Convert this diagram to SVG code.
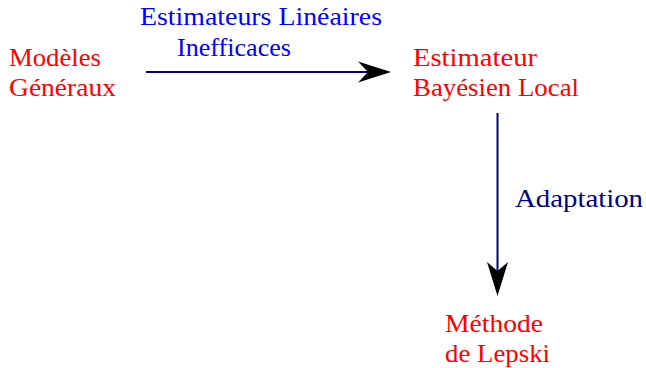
<svg xmlns="http://www.w3.org/2000/svg" width="646" height="368" viewBox="0 0 646 368">
<style>
text{font-family:"Liberation Serif","Times New Roman",serif;font-size:25px}
.node{fill:#ff0000}
.lbl{fill:#0000ff}
.lbl2{fill:#000080}
.edge{stroke:#000080;stroke-width:2;fill:none}
.head{fill:#000000;stroke:none}
</style>
<rect width="646" height="368" fill="#ffffff"/>
<g id="connectors">
<g id="edge-1">
<line class="edge" x1="146" y1="72" x2="370" y2="72"/>
<path class="head" d="M391,72 L358,61.5 L368,72 L358,82.5 Z"/>
<text class="lbl" x="140" y="25" textLength="242" lengthAdjust="spacingAndGlyphs">Estimateurs Linéaires</text>
<text class="lbl" x="177" y="56" textLength="114" lengthAdjust="spacingAndGlyphs">Inefficaces</text>
</g>
<g id="edge-2">
<line class="edge" x1="497.5" y1="113" x2="497.5" y2="272"/>
<path class="head" d="M497.5,296 L487,262 L497.5,271 L508,262 Z"/>
<text class="lbl2" x="515" y="207" textLength="128" lengthAdjust="spacingAndGlyphs">Adaptation</text>
</g>
</g>
<g id="node-modeles">
<text class="node" x="9" y="66" textLength="92" lengthAdjust="spacingAndGlyphs">Modèles</text>
<text class="node" x="9" y="96" textLength="107" lengthAdjust="spacingAndGlyphs">Généraux</text>
</g>
<g id="node-estimateur">
<text class="node" x="413" y="66" textLength="124" lengthAdjust="spacingAndGlyphs">Estimateur</text>
<text class="node" x="413" y="96" textLength="166" lengthAdjust="spacingAndGlyphs">Bayésien Local</text>
</g>
<g id="node-lepski">
<text class="node" x="445" y="332" textLength="98" lengthAdjust="spacingAndGlyphs">Méthode</text>
<text class="node" x="445" y="362" textLength="105" lengthAdjust="spacingAndGlyphs">de Lepski</text>
</g>
</svg>
